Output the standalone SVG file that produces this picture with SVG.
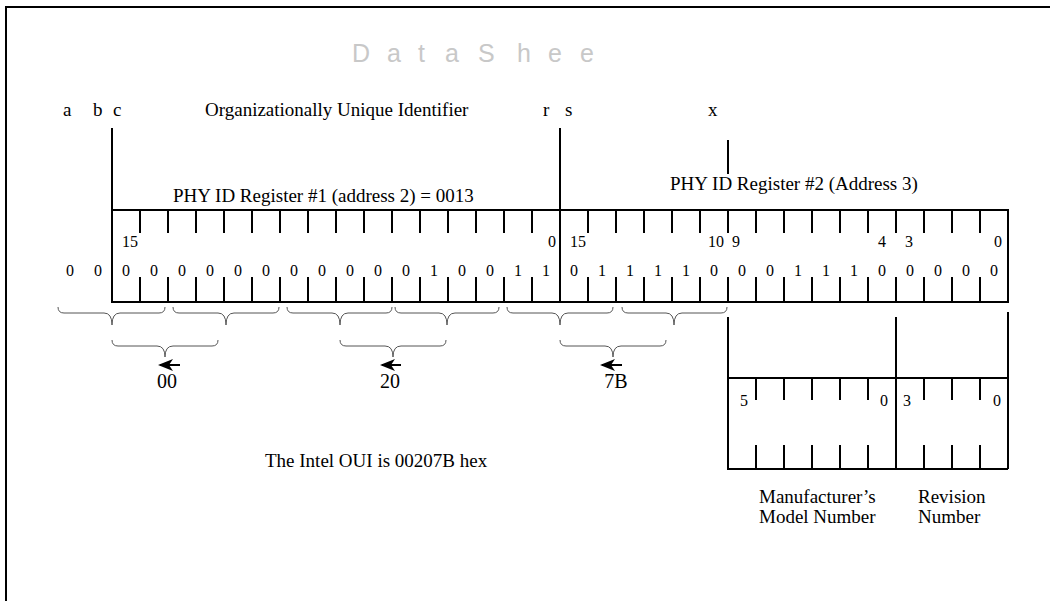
<svg xmlns="http://www.w3.org/2000/svg" width="1050" height="601" viewBox="0 0 1050 601">
<style>
text{font-family:"Liberation Serif","Times New Roman",serif;fill:#000}
.lbl{font-size:19px}
.bit{font-size:16px;text-anchor:middle}
.idx{font-size:16px}
.hex{font-size:20px;text-anchor:middle}
.wm{font-family:"Liberation Sans",Arial,sans-serif;font-size:25px;fill:#c8c8c8}
.thick{stroke:#000;stroke-width:2;fill:none}
.brace{stroke:#555;stroke-width:1;fill:none}
</style>
<defs>
<marker id="ah" markerWidth="16" markerHeight="12" refX="13" refY="6" orient="auto" markerUnits="userSpaceOnUse">
<path d="M0,0 L15,6 L0,12 L4,6 Z" fill="#000"/>
</marker>
</defs>
<rect width="1050" height="601" fill="#fff"/>
<path class="thick" d="M6,601 V7 H1050"/>
<text class="wm" x="352 387 418 445 478 517 548 580" y="62">DataShee</text>
<g id="top-labels" class="lbl">
<text x="63" y="116">a</text>
<text x="93" y="116">b</text>
<text x="113" y="116">c</text>
<text x="205" y="116">Organizationally Unique Identifier</text>
<text x="543" y="116">r</text>
<text x="565" y="116">s</text>
<text x="708" y="116">x</text>
</g>
<g id="register">
<path class="thick" d="M112,128 V302 M560,128 V302 M728,140 V174"/>
<rect class="thick" x="112" y="210" width="896" height="92"/>
<path class="thick" d="M140,210V233M168,210V233M196,210V233M224,210V233M252,210V233M280,210V233M308,210V233M336,210V233M364,210V233M392,210V233M420,210V233M448,210V233M476,210V233M504,210V233M532,210V233M588,210V233M616,210V233M644,210V233M672,210V233M700,210V233M728,210V233M756,210V233M784,210V233M812,210V233M840,210V233M868,210V233M896,210V233M924,210V233M952,210V233M980,210V233
M140,277V302M168,277V302M196,277V302M224,277V302M252,277V302M280,277V302M308,277V302M336,277V302M364,277V302M392,277V302M420,277V302M448,277V302M476,277V302M504,277V302M532,277V302M588,277V302M616,277V302M644,277V302M672,277V302M700,277V302M728,277V302M756,277V302M784,277V302M812,277V302M840,277V302M868,277V302M896,277V302M924,277V302M952,277V302M980,277V302"/>
<text class="lbl" x="173" y="202">PHY ID Register #1 (address 2) = 0013</text>
<text class="lbl" x="670" y="190">PHY ID Register #2 (Address 3)</text>
<g class="idx">
<text x="138" y="247" text-anchor="end">15</text>
<text x="556" y="247" text-anchor="end">0</text>
<text x="586" y="247" text-anchor="end">15</text>
<text x="724" y="247" text-anchor="end">10</text>
<text x="732" y="247">9</text>
<text x="886" y="247" text-anchor="end">4</text>
<text x="905" y="247">3</text>
<text x="1002" y="247" text-anchor="end">0</text>
</g>
<text class="bit" x="70 98 126 154 182 210 238 266 294 322 350 378 406 434 462 490 518 546 574 602 630 658 686 714 742 770 798 826 854 882 910 938 966 994" y="276">0000000000000100110111100011100000</text>
</g>
<g id="connectors">
<g class="brace">
<path d="M58,307 Q58,313 64,313 H104 Q112,313 112,325 Q112,313 120,313 H159 Q165,313 165,307"/>
<path d="M173,307 Q173,313 179,313 H218 Q226,313 226,325 Q226,313 234,313 H273 Q279,313 279,307"/>
<path d="M287,307 Q287,313 293,313 H332 Q340,313 340,325 Q340,313 348,313 H386 Q392,313 392,307"/>
<path d="M395,307 Q395,313 401,313 H439 Q447,313 447,325 Q447,313 455,313 H493 Q499,313 499,307"/>
<path d="M507,307 Q507,313 513,313 H552 Q560,313 560,325 Q560,313 568,313 H607 Q613,313 613,307"/>
<path d="M622,307 Q622,313 628,313 H666 Q674,313 674,325 Q674,313 682,313 H721 Q727,313 727,307"/>
<path d="M112,340 Q112,346 118,346 H157 Q165,346 165,357 Q165,346 173,346 H212 Q218,346 218,340"/>
<path d="M340,340 Q340,346 346,346 H385 Q393,346 393,357 Q393,346 401,346 H440 Q446,346 446,340"/>
<path d="M560,340 Q560,346 566,346 H605 Q613,346 613,357 Q613,346 621,346 H660 Q666,346 666,340"/>
</g>
<g stroke="#000" stroke-width="2" fill="none">
<path d="M180,365 H160" marker-end="url(#ah)"/>
<path d="M401,365 H382" marker-end="url(#ah)"/>
<path d="M622,365 H602" marker-end="url(#ah)"/>
</g>
</g>
<g id="hex-labels" class="hex">
<text x="167" y="388">00</text>
<text x="390" y="388">20</text>
<text x="616" y="388">7B</text>
</g>
<text class="lbl" x="265" y="467">The Intel OUI is 00207B hex</text>
<g id="sub-register">
<path class="thick" d="M728,317 V469 M896,317 V469 M1008,312 V469 M727,378 H1008 M727,469 H1008"/>
<path class="thick" d="M756,378V400M784,378V400M812,378V400M840,378V400M868,378V400M924,378V400M952,378V400M980,378V400
M756,445V469M784,445V469M812,445V469M840,445V469M868,445V469M924,445V469M952,445V469M980,445V469"/>
<g class="idx">
<text x="740" y="406">5</text>
<text x="888" y="406" text-anchor="end">0</text>
<text x="903" y="406">3</text>
<text x="1001" y="406" text-anchor="end">0</text>
</g>
<text class="lbl" x="759" y="503">Manufacturer’s</text>
<text class="lbl" x="759" y="523">Model Number</text>
<text class="lbl" x="918" y="503">Revision</text>
<text class="lbl" x="918" y="523">Number</text>
</g>
</svg>
